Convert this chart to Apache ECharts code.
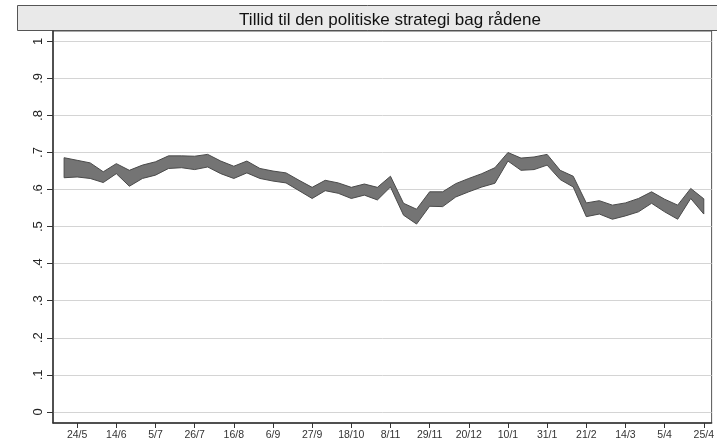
<!DOCTYPE html>
<html>
<head>
<meta charset="utf-8">
<script src="https://cdn.jsdelivr.net/npm/echarts@6/dist/echarts.min.js"></script>
<style>
html,body{margin:0;padding:0;background:#fff;}
#chart{width:717px;height:446px;}
</style>
</head>
<body>
<div id="chart"></div>
<script>
// weekly points, first week (17/5) one before the first label
var upper = [0.686,0.679,0.672,0.648,0.670,0.652,0.666,0.675,0.691,0.691,
             0.690,0.695,0.677,0.663,0.677,0.657,0.650,0.645,0.625,0.606,
             0.625,0.618,0.606,0.615,0.606,0.636,0.563,0.547,0.594,0.594,
             0.616,0.630,0.643,0.659,0.700,0.685,0.688,0.695,0.652,0.636,
             0.564,0.570,0.558,0.564,0.576,0.594,0.574,0.558,0.603,0.575];
var lower = [0.632,0.634,0.630,0.619,0.643,0.609,0.630,0.639,0.657,0.659,
             0.654,0.661,0.643,0.630,0.645,0.630,0.623,0.618,0.597,0.576,
             0.597,0.590,0.576,0.585,0.572,0.607,0.531,0.507,0.555,0.554,
             0.580,0.594,0.607,0.617,0.677,0.652,0.654,0.666,0.627,0.607,
             0.527,0.534,0.520,0.529,0.540,0.563,0.540,0.520,0.576,0.534];
var tickIdx = [1,4,7,10,13,16,19,22,25,28,31,34,37,40,43,46,49];
var tickLabels = ['24/5','14/6','5/7','26/7','16/8','6/9','27/9','18/10','8/11',
                  '29/11','20/12','10/1','31/1','21/2','14/3','5/4','25/4'];
var yTicks = [0,0.1,0.2,0.3,0.4,0.5,0.6,0.7,0.8,0.9,1];
var yLabels = ['0','.1','.2','.3','.4','.5','.6','.7','.8','.9','1'];

var chart = echarts.init(document.getElementById('chart'));
var fontFam = '"Liberation Sans", Arial, sans-serif';

var bandData = upper.map(function(v, i){ return [i, v, lower[i]]; });

var option = {
    animation: false,
    backgroundColor: '#fff',
    title: {
        text: 'Tillid til den politiske strategi bag rådene',
        left: 385, top: 7, textAlign: 'center',
        textStyle: {fontFamily: fontFam, fontSize: 17, fontWeight: 'normal', color: '#111'}
    },
    graphic: [{
        type: 'rect', z: -1,
        shape: {x: 17.5, y: 5.5, width: 720, height: 25},
        style: {fill: '#e9e9e9', stroke: '#555', lineWidth: 1}
    }],
    grid: {
        left: 53, right: 4, top: 31, bottom: 23,
        show: true, borderColor: '#555', borderWidth: 1
    },
    xAxis: {
        type: 'value', min: -0.85, max: 49.6,
        axisLine: {show: true, onZero: false, lineStyle: {color: '#333', width: 1.5}},
        axisTick: {show: true, length: 5, customValues: tickIdx, lineStyle: {color: '#333'}},
        axisLabel: {
            customValues: tickIdx, margin: 7,
            fontFamily: fontFam, fontSize: 10.5, color: '#333',
            formatter: function(v){ return tickLabels[tickIdx.indexOf(Math.round(v))] || ''; }
        },
        splitLine: {show: false}
    },
    yAxis: {
        type: 'value', min: -0.03, max: 1.028,
        axisLine: {show: true, onZero: false, lineStyle: {color: '#333', width: 1.5}},
        axisTick: {show: true, length: 6, customValues: yTicks, lineStyle: {color: '#333'}},
        axisLabel: {
            customValues: yTicks, rotate: 90, margin: 8,
            fontFamily: fontFam, fontSize: 13, color: '#222',
            formatter: function(v){
                var k = Math.round(v * 10);
                return yLabels[k];
            }
        },
        splitLine: {show: true, lineStyle: {color: '#d4d4d4', width: 1}}
    },
    series: [{
        type: 'custom',
        data: bandData,
        clip: true,
        renderItem: function(params, api){
            if (params.dataIndex !== 0) return;
            var pts = [];
            for (var i = 0; i < upper.length; i++) pts.push(api.coord([i, upper[i]]));
            for (var j = lower.length - 1; j >= 0; j--) pts.push(api.coord([j, lower[j]]));
            return {
                type: 'polygon',
                shape: {points: pts},
                style: {fill: '#747474', stroke: '#4a4a4a', lineWidth: 1}
            };
        }
    }]
};
chart.setOption(option);
</script>
</body>
</html>
